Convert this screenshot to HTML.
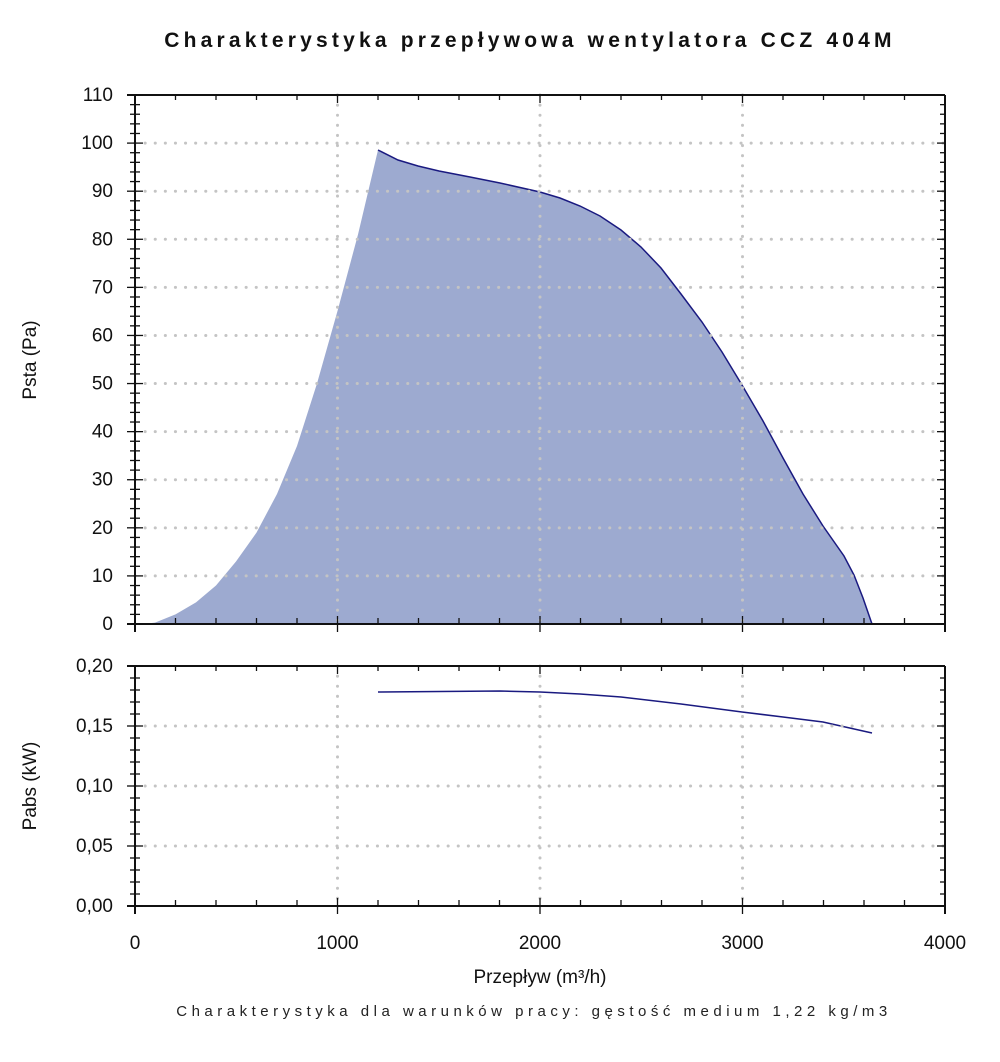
<!DOCTYPE html>
<html><head><meta charset="utf-8"><style>
body{margin:0;background:#fff;}
svg{display:block;font-family:"Liberation Sans","DejaVu Sans",sans-serif;}
</style></head><body>
<svg id="s" width="1000" height="1062" viewBox="0 0 1000 1062" xmlns="http://www.w3.org/2000/svg">
<text x="530" y="47" text-anchor="middle" font-size="21" font-weight="bold" letter-spacing="4.2" fill="#111">Charakterystyka przepływowa wentylatora CCZ 404M</text>
<path d="M135,624 L145,623.8 L155,622.6 L175.5,614.4 L196,602.4 L216,585.5 L236,561.5 L256.5,532.6 L277,494 L297,446 L317,383.5 L337.5,311 L358,234.5 L378,150 L398,160 L418,166 L439,171 L470,177 L500,183 L540,192 L560,198 L580,206 L600,216 L621,230 L641,247 L661,268 L681,294 L702,322 L722,352 L742,385 L763,421 L783,458 L803,494 L823,526 L844,556 L854,575 L863,598 L872,624 Z" fill="#9daad0"/>
<polyline points="378,150 398,160 418,166 439,171 470,177 500,183 540,192 560,198 580,206 600,216 621,230 641,247 661,268 681,294 702,322 722,352 742,385 763,421 783,458 803,494 823,526 844,556 854,575 863,598 872,624" fill="none" stroke="#1a1a80" stroke-width="1.5"/>
<polyline points="378,692 440,691.5 500,691 540,692 580,694 621,697 681,704 742,712 783,717 823,722 872,733" fill="none" stroke="#1a1a80" stroke-width="1.5"/>
<g id="g"></g>
<text x="540" y="983" text-anchor="middle" font-size="19" fill="#111">Przepływ (m³/h)</text>
<text x="534" y="1016" text-anchor="middle" font-size="15" letter-spacing="4.5" fill="#222">Charakterystyka dla warunków pracy: gęstość medium 1,22 kg/m3</text>
<text transform="translate(36,360) rotate(-90)" text-anchor="middle" font-size="19" fill="#111">Psta (Pa)</text>
<text transform="translate(36,786) rotate(-90)" text-anchor="middle" font-size="19" fill="#111">Pabs (kW)</text>
</svg>
<script>
var g=document.getElementById('g'),h='';
function L(x1,y1,x2,y2,st){h+='<line x1="'+x1+'" y1="'+y1+'" x2="'+x2+'" y2="'+y2+'" '+st+'/>';}
function T(x,y,t,a){h+='<text x="'+x+'" y="'+y+'" text-anchor="'+(a||'end')+'" font-size="19" fill="#111">'+t+'</text>';}
var X0=135,X1=945,dot='stroke="#c4c4c4" stroke-width="3" stroke-linecap="round" stroke-dasharray="0.1,10"',ax='stroke="#111" stroke-width="2"',tk='stroke="#111" stroke-width="1.3"';
function px(v){return X0+v*0.2025;}
var Y0=624,Yt=95;function py(p){return Y0-p*4.809;}
for(var p=10;p<=100;p+=10)L(X0,py(p),X1,py(p),dot);
for(var v=1000;v<=3000;v+=1000)L(px(v),Yt,px(v),Y0,dot);
var B0=906,Bt=666;function pk(k){return B0-k*1200;}
for(var k=0.05;k<0.19;k+=0.05)L(X0,pk(k),X1,pk(k),dot);
for(var v=1000;v<=3000;v+=1000)L(px(v),Bt,px(v),B0,dot);
[[Yt,Y0,py,110,2,10,1],[Bt,B0,pk,0.2,0.01,0.05,0]].forEach(function(P){
 var top=P[0],bot=P[1],f=P[2];
 L(X0-8,top,X1,top,ax);L(X0-8,bot,X1,bot,ax);L(X0,top,X0,bot+8,ax);L(X1,top,X1,bot+8,ax);
 for(var v=0;v<=4000;v+=200){var x=px(v);var maj=v%1000==0;
  L(x,bot-(maj?8:6),x,bot+(maj?8:0),tk);L(x,top,x,top+(maj?8:5),tk);}
 var n=Math.round(P[3]/P[4]);
 for(var j=0;j<=n;j++){var val=j*P[4],y=f(val),maj=Math.abs(val/P[5]-Math.round(val/P[5]))<1e-6;
  L(X0-(maj?8:5),y,X0+(maj?8:5),y,tk);L(X1-(maj?8:5),y,X1,y,tk);
  if(maj)T(113,y+6,P[6]?Math.round(val):val.toFixed(2).replace('.',','));}
});
for(var v=0;v<=4000;v+=1000)T(px(v),949,v,'middle');
g.innerHTML=h;
</script>
</body></html>
